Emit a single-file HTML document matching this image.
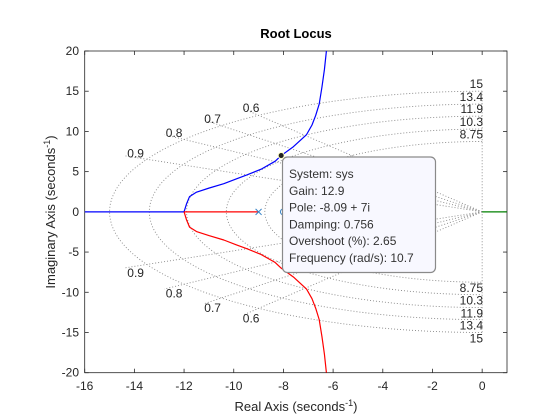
<!DOCTYPE html>
<html><head><meta charset="utf-8"><style>
body{margin:0;background:#fff}
svg{display:block;font-family:"Liberation Sans",sans-serif}
</style></head><body>
<svg id="chart" width="560" height="420" viewBox="0 0 560 420">
<rect x="0" y="0" width="560" height="420" fill="#fff"/>
<g id="plot"></g>
</svg>
<script>
const xTicks = [-16,-14,-12,-10,-8,-6,-4,-2,0];
const yTicks = [-20,-15,-10,-5,0,5,10,15,20];
const dampings = [0.6,0.7,0.8,0.9];
const freqs = [8.75,10.3,11.9,13.4,15];
const blueReal = [-12,-11.9,-11.78,-11.5,-11.0,-10.4,-9.9,-9.46,-8.9,-8.33,-8.09,-7.6,-7.07,-6.85,-6.7,-6.56,-6.45,-6.35,-6.27];
const blueImag = [0,1.0,1.9,2.45,2.95,3.5,4.1,4.6,5.3,6.3,7,8.1,9.6,10.8,12,13.4,15.5,17.7,20];
const poles = [-9];
const zeros = [-8];
const selReal = -8.09, selImag = 7;

const X0=84.7, X1=507, Y0=51, Y1=372.7, xmin=-16, xmax=1, ymin=-20, ymax=20;
const sx = v => X0 + (v-xmin)/(xmax-xmin)*(X1-X0);
const sy = v => Y1 - (v-ymin)/(ymax-ymin)*(Y1-Y0);
const NS='http://www.w3.org/2000/svg';
const g=document.getElementById('plot');
function mk(tag, attrs, parent){const e=document.createElementNS(NS,tag);for(const k in attrs)e.setAttribute(k,attrs[k]);(parent||g).appendChild(e);return e;}
function txt(s,x,y,attrs){const e=mk('text',Object.assign({x:x,y:y,'font-size':12,fill:'#262626'},attrs||{}));e.textContent=s;return e;}

const box=mk('rect',{x:X0,y:Y0,width:X1-X0,height:Y1-Y0,fill:'#fff',stroke:'#262626','stroke-width':0.8});



const clip=mk('clipPath',{id:'cp'});mk('rect',{x:X0,y:Y0,width:X1-X0,height:Y1-Y0},clip);
const grid=mk('g',{'clip-path':'url(#cp)',stroke:'#888',fill:'none','stroke-width':0.9,'stroke-dasharray':'1,2'});


freqs.forEach((w,i)=>{
  let d='';
  for(let a=90;a<=270;a+=2){const r=a*Math.PI/180;d+=(a===90?'M':'L')+sx(w*Math.cos(r)).toFixed(2)+','+sy(w*Math.sin(r)).toFixed(2);}
  const p=mk('path',{d:d},grid);
  
  
  const t1=txt(String(w),483,sy(w)-3,{'text-anchor':'end'});
  
  
  const t2=txt(String(w),483,sy(-w)+10,{'text-anchor':'end'});
  
  
});
const vline=mk('line',{x1:sx(0),x2:sx(0),y1:sy(15),y2:sy(-15)},grid);


dampings.forEach((z,i)=>{
  const s=Math.sqrt(1-z*z), R=16;
  [1,-1].forEach(sg=>{
    const l=mk('line',{x1:sx(0),y1:sy(0),x2:sx(-z*R),y2:sy(sg*s*R)},grid);
    
    
  });
  const lx=sx(-z*15.5);
  const tu=txt(String(z),lx,sy(s*15.5),{'text-anchor':'middle'});
  
  
  const tl=txt(String(z),lx,sy(-s*15.5)+11,{'text-anchor':'middle'});
  
  
});

xTicks.forEach(v=>{
  mk('line',{x1:sx(v),x2:sx(v),y1:Y1,y2:Y1-4,stroke:'#262626','stroke-width':0.8});
  mk('line',{x1:sx(v),x2:sx(v),y1:Y0,y2:Y0+4,stroke:'#262626','stroke-width':0.8});
  const t=txt(String(v),sx(v),390,{'text-anchor':'middle',fill:'#262626'});
  
  
});
yTicks.forEach(v=>{
  mk('line',{x1:X0,x2:X0+4,y1:sy(v),y2:sy(v),stroke:'#262626','stroke-width':0.8});
  mk('line',{x1:X1,x2:X1-4,y1:sy(v),y2:sy(v),stroke:'#262626','stroke-width':0.8});
  const t=txt(String(v),79,sy(v)+4,{'text-anchor':'end'});
  
  
});

const lg=mk('g',{'clip-path':'url(#cp)',fill:'none','stroke-width':1.2,'stroke-linejoin':'round'});
function locus(re,im,sign,color,name){
  let d='';re.forEach((r,i)=>{d+=(i?'L':'M')+sx(r).toFixed(2)+','+sy(sign*im[i]).toFixed(2);});
  const p=mk('path',{d:d,stroke:color},lg);
  
  
}
const bh=mk('line',{x1:sx(-16),x2:sx(-12),y1:sy(0),y2:sy(0),stroke:'#0000ff'},lg);


locus(blueReal,blueImag,1,'#0000ff','blue-locus-branch');
const rh=mk('line',{x1:sx(poles[0]),x2:sx(-12),y1:sy(0),y2:sy(0),stroke:'#ff0000'},lg);


locus(blueReal,blueImag,-1,'#ff0000','red-locus-branch');
const gl=mk('line',{x1:sx(0),x2:sx(1),y1:sy(0),y2:sy(0),stroke:'#008000'},lg);



poles.forEach(p=>{
  const m=mk('path',{d:`M${sx(p)-3},${sy(0)-3}L${sx(p)+3},${sy(0)+3}M${sx(p)-3},${sy(0)+3}L${sx(p)+3},${sy(0)-3}`,stroke:'#3b86c8','stroke-width':1});
  
  
});
zeros.forEach(z=>{
  const m=mk('circle',{cx:sx(z),cy:sy(0),r:3,fill:'none',stroke:'#3b86c8','stroke-width':1});
  
  
});

const tip=mk('rect',{x:282.5,y:157,width:153,height:115.5,rx:5,fill:'#f8f8ff',stroke:'#8a8a8a','stroke-width':1.2});


const dot=mk('circle',{cx:sx(selReal),cy:sy(selImag),r:3,fill:'#222',stroke:'#ffffcc','stroke-width':1});


['System: sys','Gain: 12.9','Pole: -8.09 + 7i','Damping: 0.756','Overshoot (%): 2.65','Frequency (rad/s): 10.7'].forEach((s,i)=>{
  const t=txt(s,289,178+i*16.8,{fill:'#333'});
  
  
});

const title=txt('Root Locus',296,38,{'text-anchor':'middle','font-weight':'bold','font-size':13,fill:'#000'});


const xl=mk('text',{x:296,y:411,'text-anchor':'middle','font-size':13,fill:'#262626'});
xl.innerHTML='Real Axis (seconds<tspan dy="-5" font-size="9">-1</tspan><tspan dy="5">)</tspan>';


const yl=mk('text',{x:0,y:0,'text-anchor':'middle','font-size':13,fill:'#262626',transform:'translate(55,212) rotate(-90)'});
yl.innerHTML='Imaginary Axis (seconds<tspan dy="-5" font-size="9">-1</tspan><tspan dy="5">)</tspan>';


</script>
</body></html>
